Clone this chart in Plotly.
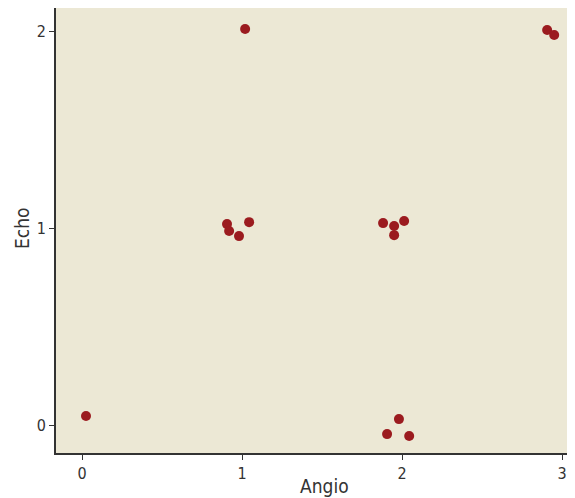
import plotly.graph_objects as go

angio = [0.025, 1.019, 0.906, 0.919, 0.981, 1.044, 1.881, 1.95, 1.95, 2.0125, 1.98, 1.906, 2.044, 2.906, 2.95]
echo = [0.046, 2.01, 1.02, 0.985, 0.959, 1.03, 1.025, 1.01, 0.964, 1.036, 0.030, -0.046, -0.056, 2.005, 1.98]
tick_vals = [0, 1, 2, 3]
y_tick_vals = [0, 1, 2]

font_family = "DejaVu Sans Condensed, Liberation Sans Narrow, sans-serif"

# page body has an 8px margin; compensate so plot area lands at x 56..575, y 8..453
W, H = 567, 490
L, T, B = 48, 0, 45
plot_w = W - L
plot_h = H - T - B

fig = go.Figure()
fig.add_trace(go.Scatter(
    x=angio, y=echo, mode="markers",
    marker=dict(size=10, color="#9B1B1F", line=dict(width=0)),
    showlegend=False,
))

fig.update_layout(
    width=W, height=H,
    margin=dict(l=L, r=0, t=T, b=B, pad=0),
    paper_bgcolor="white",
    plot_bgcolor="#ECE8D5",
    font=dict(family=font_family, size=16, color="#333333"),
    xaxis=dict(
        range=[-0.1625, 3.08], tickvals=tick_vals, showgrid=False, zeroline=False,
        showline=True, linecolor="#333333", linewidth=2,
        ticks="outside", ticklen=5, tickcolor="#333333", tickwidth=1,
        tickfont=dict(size=16, color="#333333"),
    ),
    yaxis=dict(
        range=[-0.142, 2.117], tickvals=y_tick_vals, showgrid=False, zeroline=False,
        showline=True, linecolor="#333333", linewidth=2,
        ticks="outside", ticklen=5, tickcolor="#333333", tickwidth=1,
        tickfont=dict(size=16, color="#333333"),
    ),
    annotations=[
        dict(text="Angio", xref="paper", yref="paper", x=(324 - 56) / plot_w, y=-(486 - 453) / plot_h,
             xanchor="center", yanchor="middle", showarrow=False,
             font=dict(size=19, color="#333333")),
        dict(text="Echo", xref="paper", yref="paper", x=-(56 - 22) / plot_w, y=(453 - 228) / plot_h,
             textangle=-90, xanchor="center", yanchor="middle", showarrow=False,
             font=dict(size=19, color="#333333")),
    ],
)

fig.write_html("out.html")
